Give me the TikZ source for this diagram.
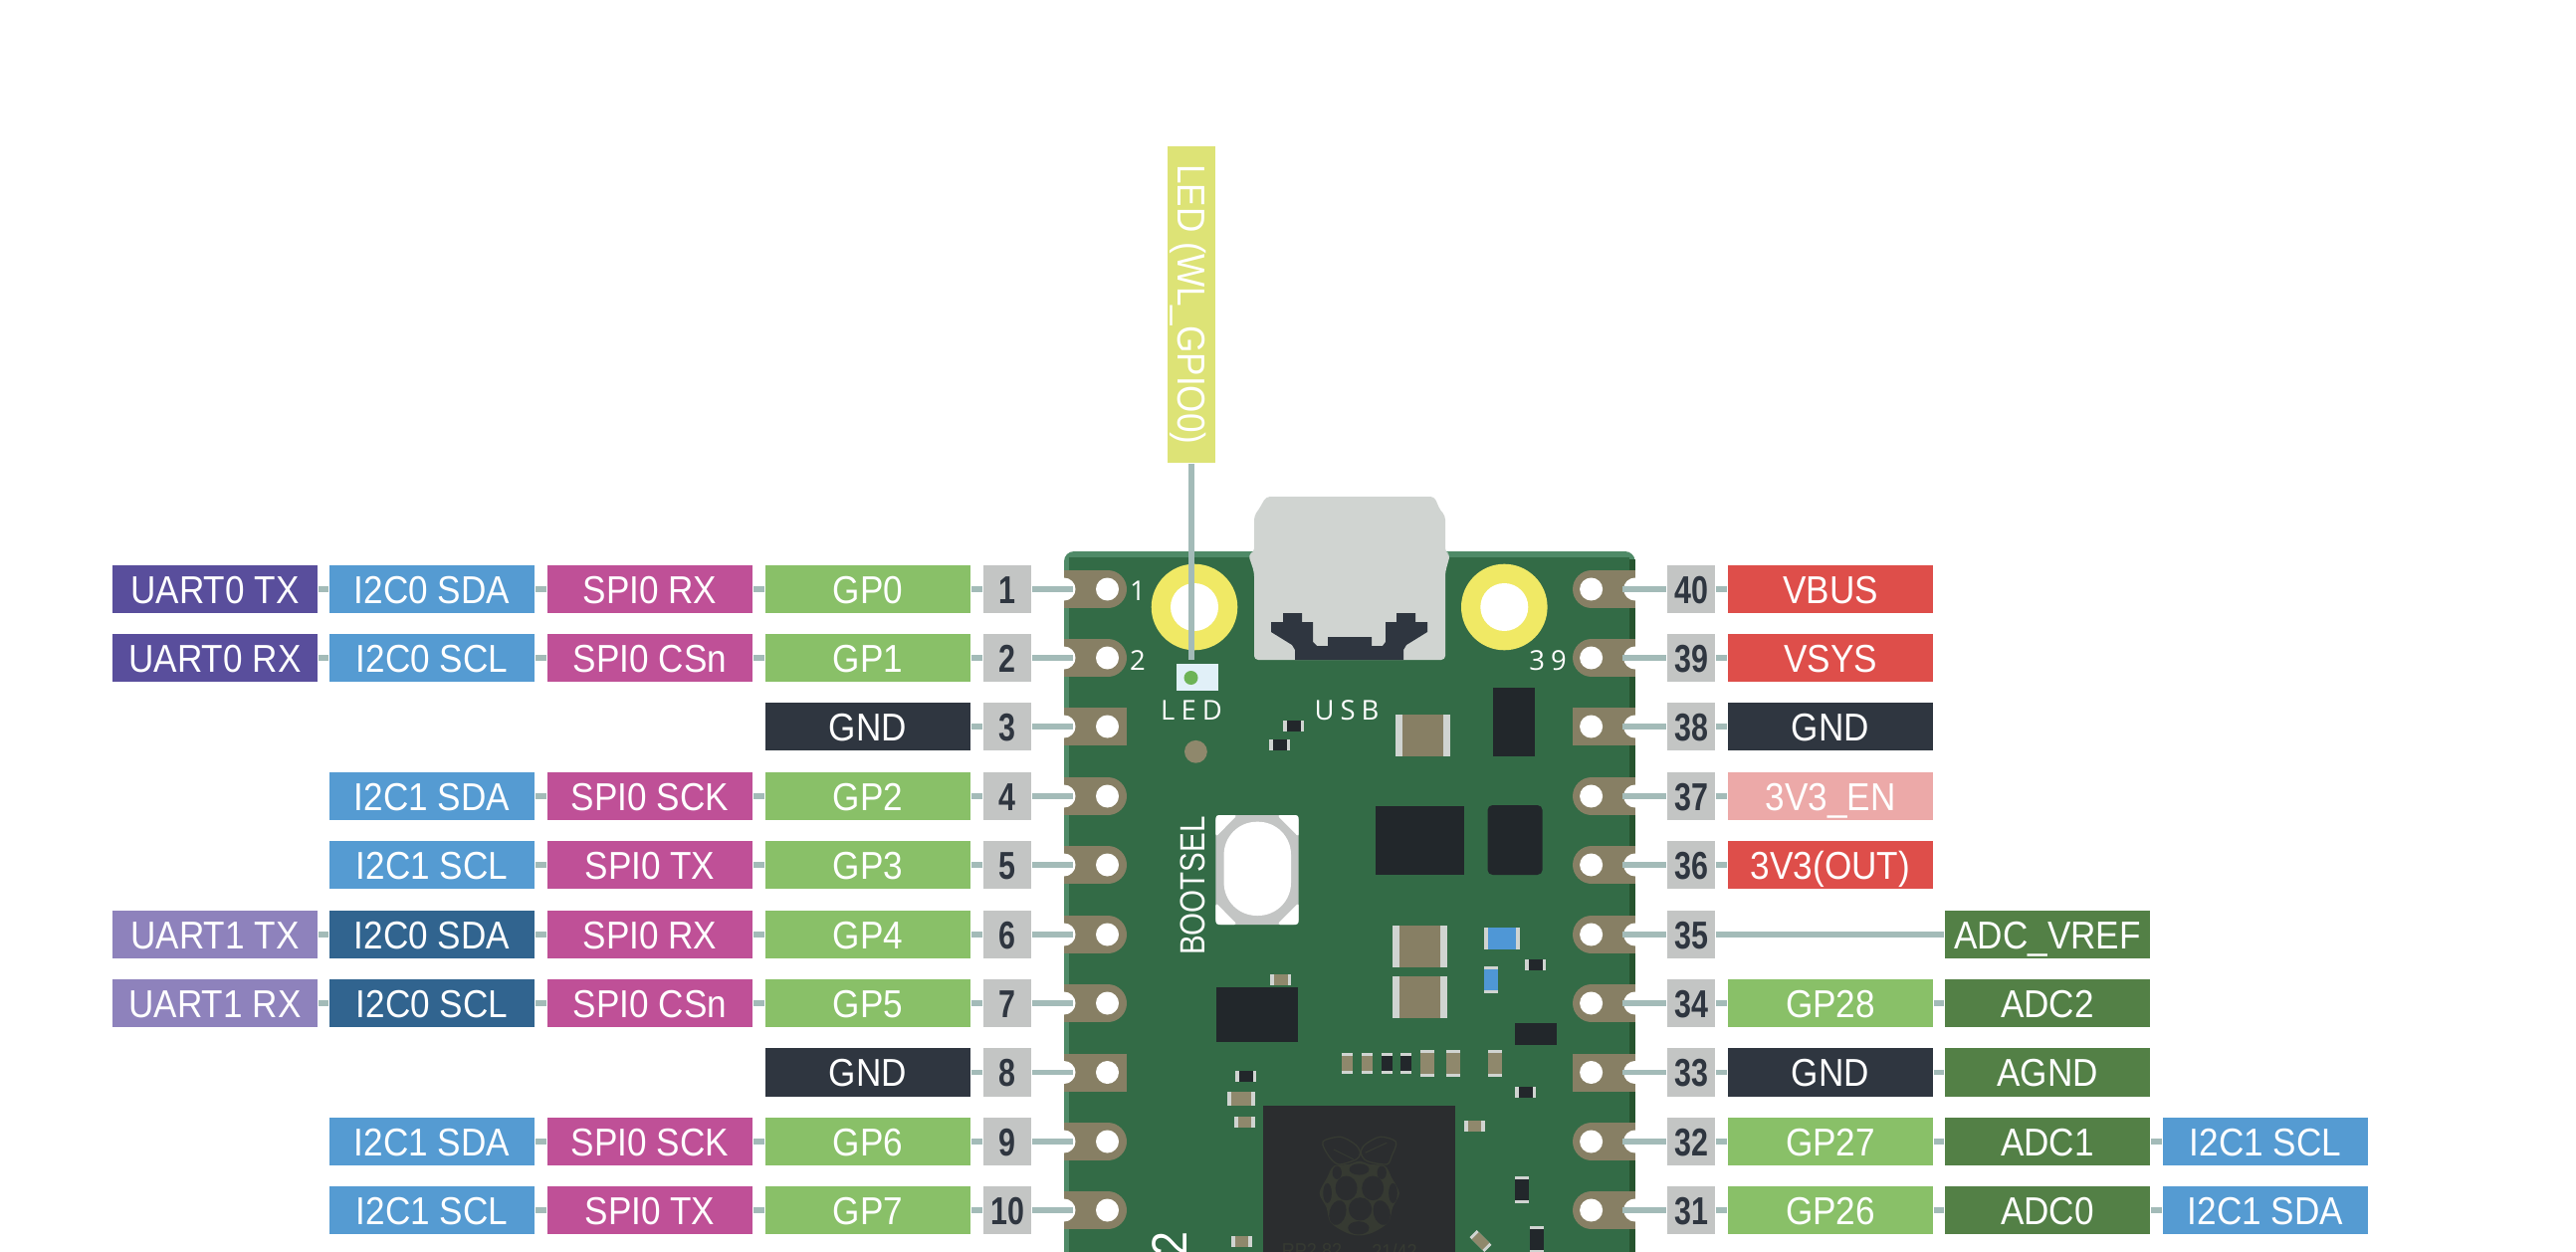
\documentclass[tikz,border=0pt]{standalone}
\usepackage{fontspec}
\usepackage{tikz}
\setmainfont[FakeStretch=0.9]{Liberation Sans}
\newfontfamily\numfont[FakeStretch=0.78]{Liberation Sans}
\newfontfamily\silkfont[LetterSpace=22]{Open Sans}
\newfontfamily\bootfont[FakeStretch=0.84]{Liberation Sans}
\definecolor{wirecol}{HTML}{A3BBB8}
\definecolor{uartcol}{HTML}{594E9C}
\definecolor{uartpale}{HTML}{8E82BC}
\definecolor{bluecol}{HTML}{559BD2}
\definecolor{bluedark}{HTML}{31648F}
\definecolor{spicol}{HTML}{BF5097}
\definecolor{gpcol}{HTML}{89C068}
\definecolor{gndcol}{HTML}{2F3640}
\definecolor{numcol}{HTML}{C3C5C4}
\definecolor{redcol}{HTML}{DE4E4A}
\definecolor{redpale}{HTML}{ECA9A8}
\definecolor{adccol}{HTML}{538046}
\definecolor{ledcol}{HTML}{DDE376}
\definecolor{ledbody}{HTML}{E1F0F8}
\definecolor{leddot}{HTML}{6DB356}
\definecolor{boardcol}{HTML}{336B46}
\definecolor{boardlite}{HTML}{4F8A67}
\definecolor{boarddark}{HTML}{27542F}
\definecolor{padcol}{HTML}{877F64}
\definecolor{tancol}{HTML}{8F886C}
\definecolor{blackcol}{HTML}{22272B}
\definecolor{endcol}{HTML}{D0D4D1}
\definecolor{smdblue}{HTML}{4F97D6}
\definecolor{chipcol}{HTML}{2B2D2F}
\definecolor{logocol}{HTML}{363A32}
\definecolor{yellowcol}{HTML}{F0E965}
\tikzset{
  tag/.style={inner sep=0pt,minimum width=2.06cm,minimum height=0.48cm,text height=0.28cm,text depth=0pt,text=white,font=\fontsize{11.1}{11.1}\selectfont},
  uart0/.style={tag,fill=uartcol},
  uart1/.style={tag,fill=uartpale},
  i2c/.style={tag,fill=bluecol},
  i2cdark/.style={tag,fill=bluedark},
  spi/.style={tag,fill=spicol},
  gp/.style={tag,fill=gpcol},
  gnd/.style={tag,fill=gndcol},
  power/.style={tag,fill=redcol},
  enable/.style={tag,fill=redpale},
  adc/.style={tag,fill=adccol},
  num/.style={inner sep=0pt,minimum width=0.48cm,minimum height=0.48cm,text height=0.28cm,text depth=0pt,fill=numcol,text=gndcol,font=\numfont\bfseries\fontsize{11.1}{11.1}\selectfont},
  wire/.style={wirecol,line width=0.053cm},
  silk/.style={inner sep=0pt,text=white,text depth=0pt,font=\silkfont\fontsize{7.8}{7.8}\selectfont},
}
\begin{document}
\begin{tikzpicture}[x=0.01cm,y=-0.01cm]
\useasboundingbox (0,0) rectangle (2588,1258);
\clip (0,0) rectangle (2588,1258);
\fill[boardlite,rounded corners=0.1cm] (1069,1300) -- (1069,554) -- (1642.6,554) -- (1642.6,1300) -- cycle;
\fill[boarddark] (1637.3,562) rectangle (1642.6,1300);
\fill[boardcol] (1074,560) rectangle (1637.3,1300);
\foreach \y in {592,661,800,869,939,1008,1147,1216} {
  \fill[padcol] (1069,\y-19) rectangle (1113,\y+19);
  \fill[padcol] (1113,\y) circle (19);
  \fill[padcol] (1599,\y-19) rectangle (1642.6,\y+19);
  \fill[padcol] (1599,\y) circle (19);
}
\foreach \y in {730,1077.5} {
  \fill[padcol] (1069,\y-19) rectangle (1132,\y+19);
  \fill[padcol] (1580,\y-19) rectangle (1642.6,\y+19);
}
\foreach \y in {592,661,730,800,869,939,1008,1077.5,1147,1216} {
  \fill[white] (1112.5,\y) circle (11.5);
  \fill[white] (1069,\y) circle (11.5);
  \fill[white] (1598.6,\y) circle (11.5);
  \fill[white] (1642.6,\y) circle (11.5);
}
\fill[yellowcol] (1200,610) circle (43.3);
\fill[white] (1200,610) circle (24);
\fill[yellowcol] (1511.3,610) circle (43.3);
\fill[white] (1511.3,610) circle (24);
\fill[endcol,rounded corners=0.04cm] (1272,499) -- (1441,499) -- (1447,513) -- (1452,518) -- (1452,555) -- (1457,557) -- (1452,575) -- (1452,663) -- (1260,663) -- (1260,575) -- (1254,557) -- (1260,555) -- (1260,518) -- (1264,513) -- cycle;
\fill[gndcol] (1289,616) -- (1308,616) -- (1308,625) -- (1319,625) -- (1319,645) -- (1323,649) -- (1334,649) -- (1334,640) -- (1378,640) -- (1378,649) -- (1389,649) -- (1392,645) -- (1392,625) -- (1403,625) -- (1403,616) -- (1422,616) -- (1422,625) -- (1434,625) -- (1434,635) -- (1413,648) -- (1410,653) -- (1410,663) -- (1301,663) -- (1301,653) -- (1298,648) -- (1277,635) -- (1277,625) -- (1289,625) -- cycle;
\fill[ledbody] (1182,667) rectangle (1224,693.7);
\fill[leddot] (1196.5,681) circle (7);
\fill[tancol] (1201.4,755.3) circle (11.4);
\fill[numcol,rounded corners=0.05cm] (1221.4,819) rectangle (1304.7,929);
\fill[white,rounded corners=0.33cm] (1229.6,825.7) rectangle (1297,920);
\fill[white,rounded corners=0.03cm] (1221.4,819) -- (1243,819) -- (1221.4,841) -- cycle;
\fill[white,rounded corners=0.03cm] (1304.7,819) -- (1283,819) -- (1304.7,841) -- cycle;
\fill[white,rounded corners=0.03cm] (1221.4,929) -- (1243,929) -- (1221.4,907) -- cycle;
\fill[white,rounded corners=0.03cm] (1304.7,929) -- (1283,929) -- (1304.7,907) -- cycle;
\fill[blackcol] (1500,691) rectangle (1542,760);
\fill[blackcol] (1382,810) rectangle (1471,879);
\fill[blackcol,rounded corners=0.05cm] (1494.5,809) rectangle (1549.6,879);
\fill[blackcol] (1222,992) rectangle (1304,1047);
\fill[blackcol] (1522,1028) rectangle (1564,1050);
\foreach \xa/\ya/\xb/\yb/\e/\col in {1289/724/1310/735/3.5/blackcol,1275/743/1296/754/3.5/blackcol,1402/718/1457/760/7/padcol,1399/930/1454/972/7/padcol,1399/981/1454/1023/7/padcol,1491/932/1527/954/4/smdblue,1532/964/1553/975/3.5/blackcol,1276/979/1297/990/3.5/tancol,1522/1092/1543/1103/3.5/blackcol,1241/1076/1262/1087/3.5/blackcol,1233/1097/1261/1111/4/tancol,1240/1122/1261/1133/4/tancol,1471/1126/1492/1137/4/tancol,1237/1242/1258/1253/4/tancol} {
  \fill[endcol] (\xa,\ya) rectangle (\xb,\yb);
  \fill[\col] (\xa+\e,\ya) rectangle (\xb-\e,\yb);
}
\foreach \xa/\ya/\xb/\yb/\e/\col in {1491/971/1505/998/2.7/smdblue,1348/1058/1359/1079/3/tancol,1368/1058/1379/1079/3/tancol,1388/1058/1399/1079/3/blackcol,1407/1058/1418/1079/3/blackcol,1427/1055/1441/1082/2.7/tancol,1453/1055/1467/1082/2.7/tancol,1495/1055/1509/1082/2.7/tancol,1522/1182/1536/1209/2.7/blackcol,1537/1232/1551/1259/2.7/blackcol} {
  \fill[endcol] (\xa,\ya) rectangle (\xb,\yb);
  \fill[\col] (\xa,\ya+\e) rectangle (\xb,\yb-\e);
}
\begin{scope}[rotate around={-45:(1487.5,1247)}]
\fill[endcol] (1477,1242) rectangle (1498,1252);
\fill[tancol] (1480,1242) rectangle (1495,1252);
\end{scope}
\fill[chipcol] (1269,1111) rectangle (1462,1300);
\begin{scope}[shift={(1280,1120)},x=0.00333cm,y=-0.00333cm]
\fill[logocol] plot[smooth cycle] coordinates {(225,150) (257,140) (290,150) (335,155) (355,190) (378,237) (358,280) (345,325) (300,355) (257,365) (215,355) (170,325) (158,280) (137,237) (160,190) (180,155)};
\fill[chipcol] (257,165) ellipse (30 and 17);
\fill[chipcol] (218,222) ellipse (33 and 37);
\fill[chipcol] (298,222) ellipse (33 and 37);
\fill[chipcol] (260,285) circle (35);
\fill[chipcol] (161,237) ellipse (13 and 30);
\fill[chipcol] (359,237) ellipse (13 and 30);
\fill[chipcol,rotate around={-15:(192,296)}] (192,296) ellipse (25 and 38);
\fill[chipcol,rotate around={15:(325,296)}] (325,296) ellipse (25 and 38);
\fill[chipcol] (255,342) ellipse (32 and 20);
\fill[chipcol] (190,175) ellipse (14 and 20);
\fill[chipcol] (325,175) ellipse (14 and 20);
\draw[logocol,line width=0.013cm,fill=chipcol] plot[smooth cycle] coordinates {(147,82) (200,67) (245,90) (260,115) (248,135) (195,150) (165,125)};
\draw[logocol,line width=0.013cm,fill=chipcol] plot[smooth cycle] coordinates {(368,82) (320,67) (275,90) (262,115) (280,140) (340,150) (355,125)};
\draw[logocol,line width=0.01cm] (180,105) -- (240,135);
\draw[logocol,line width=0.01cm] (340,85) -- (275,115);
\end{scope}
\node[inner sep=0pt,text=logocol,font=\fontsize{5.7}{5.7}\selectfont] (chipa) at (1318,1257) {RP2 82};
\node[inner sep=0pt,text=logocol,font=\fontsize{5.7}{5.7}\selectfont] (chipb) at (1401,1257) {21/42};
\node[silk,text height=0.2cm] (silk1) at (1143,593) {1};
\node[silk,text height=0.2cm] (silk2) at (1143,663) {2};
\node[silk,text height=0.2cm] (silk39) at (1555,663) {39};
\node[silk,text height=0.2cm] (silkled) at (1197,713) {LED};
\node[silk,text height=0.2cm] (silkusb) at (1353,713) {USB};
\node[inner sep=0pt,text=white,rotate=90,text height=0.25cm,text depth=0pt,font=\bootfont\fontsize{10}{10}\selectfont] (silkboot) at (1197.5,890) {BOOTSEL};
\node[inner sep=0pt,text=white,rotate=90,text height=0.36cm,text depth=0pt,font=\fontsize{14.2}{14.2}\selectfont] (silkpico) at (1174,1250) {2};
\node[num] (n1) at (1012,592) {1};
\node[num] (n2) at (1012,661) {2};
\node[num] (n3) at (1012,730) {3};
\node[num] (n4) at (1012,800) {4};
\node[num] (n5) at (1012,869) {5};
\node[num] (n6) at (1012,939) {6};
\node[num] (n7) at (1012,1008) {7};
\node[num] (n8) at (1012,1077.5) {8};
\node[num] (n9) at (1012,1147) {9};
\node[num] (n10) at (1012,1216) {10};
\node[num] (n40) at (1699,592) {40};
\node[num] (n39) at (1699,661) {39};
\node[num] (n38) at (1699,730) {38};
\node[num] (n37) at (1699,800) {37};
\node[num] (n36) at (1699,869) {36};
\node[num] (n35) at (1699,939) {35};
\node[num] (n34) at (1699,1008) {34};
\node[num] (n33) at (1699,1077.5) {33};
\node[num] (n32) at (1699,1147) {32};
\node[num] (n31) at (1699,1216) {31};
\node[gp] (gp0) at (872,592) {GP0};
\node[gp] (gp1) at (872,661) {GP1};
\node[gnd] (gnd3) at (872,730) {GND};
\node[gp] (gp2) at (872,800) {GP2};
\node[gp] (gp3) at (872,869) {GP3};
\node[gp] (gp4) at (872,939) {GP4};
\node[gp] (gp5) at (872,1008) {GP5};
\node[gnd] (gnd8) at (872,1077.5) {GND};
\node[gp] (gp6) at (872,1147) {GP6};
\node[gp] (gp7) at (872,1216) {GP7};
\node[spi] (spia) at (653,592) {SPI0 RX};
\node[spi] (spib) at (653,661) {SPI0 CSn};
\node[spi] (spic) at (653,800) {SPI0 SCK};
\node[spi] (spid) at (653,869) {SPI0 TX};
\node[spi] (spie) at (653,939) {SPI0 RX};
\node[spi] (spif) at (653,1008) {SPI0 CSn};
\node[spi] (spig) at (653,1147) {SPI0 SCK};
\node[spi] (spih) at (653,1216) {SPI0 TX};
\node[i2c] (i2ca) at (434,592) {I2C0 SDA};
\node[i2c] (i2cb) at (434,661) {I2C0 SCL};
\node[i2c] (i2cc) at (434,800) {I2C1 SDA};
\node[i2c] (i2cd) at (434,869) {I2C1 SCL};
\node[i2cdark] (i2ce) at (434,939) {I2C0 SDA};
\node[i2cdark] (i2cf) at (434,1008) {I2C0 SCL};
\node[i2c] (i2cg) at (434,1147) {I2C1 SDA};
\node[i2c] (i2ch) at (434,1216) {I2C1 SCL};
\node[uart0] (uarta) at (216,592) {UART0 TX};
\node[uart0] (uartb) at (216,661) {UART0 RX};
\node[uart1] (uartc) at (216,939) {UART1 TX};
\node[uart1] (uartd) at (216,1008) {UART1 RX};
\node[power] (vbus) at (1839,592) {VBUS};
\node[power] (vsys) at (1839,661) {VSYS};
\node[gnd] (gnd38) at (1839,730) {GND};
\node[enable] (en) at (1839,800) {3V3\_EN};
\node[power] (vout) at (1839,869) {3V3(OUT)};
\node[gp] (gp28) at (1839,1008) {GP28};
\node[gnd] (gnd33) at (1839,1077.5) {GND};
\node[gp] (gp27) at (1839,1147) {GP27};
\node[gp] (gp26) at (1839,1216) {GP26};
\node[adc] (vref) at (2057,939) {ADC\_VREF};
\node[adc] (adc2) at (2057,1008) {ADC2};
\node[adc] (agnd) at (2057,1077.5) {AGND};
\node[adc] (adc1) at (2057,1147) {ADC1};
\node[adc] (adc0) at (2057,1216) {ADC0};
\node[i2c] (i2ci) at (2276,1147) {I2C1 SCL};
\node[i2c] (i2cj) at (2276,1216) {I2C1 SDA};
\node[inner sep=0pt,minimum width=3.18cm,minimum height=0.48cm,text height=0.28cm,text depth=0pt,text=white,fill=ledcol,rotate=-90,font=\fontsize{11.1}{11.1}\selectfont] (ledtag) at (1197,306) {LED (WL\_GPIO0)};
\coordinate (ledpin) at (1197,663);
\draw[wire] (ledtag) -- (ledpin);
\foreach \n/\y in {1/592,2/661,3/730,4/800,5/869,6/939,7/1008,8/1077.5,9/1147,10/1216} {
  \coordinate (pin\n) at (1078,\y);
  \draw[wire] (pin\n) -- (n\n);
}
\foreach \n/\y in {40/592,39/661,38/730,37/800,36/869,35/939,34/1008,33/1077.5,32/1147,31/1216} {
  \coordinate (pin\n) at (1630,\y);
  \draw[wire] (pin\n) -- (n\n);
}
\foreach \a/\b in {n1/gp0,gp0/spia,spia/i2ca,i2ca/uarta,n2/gp1,gp1/spib,spib/i2cb,i2cb/uartb,n3/gnd3,n4/gp2,gp2/spic,spic/i2cc,n5/gp3,gp3/spid,spid/i2cd,n6/gp4,gp4/spie,spie/i2ce,i2ce/uartc,n7/gp5,gp5/spif,spif/i2cf,i2cf/uartd,n8/gnd8,n9/gp6,gp6/spig,spig/i2cg,n10/gp7,gp7/spih,spih/i2ch,n40/vbus,n39/vsys,n38/gnd38,n37/en,n36/vout,n35/vref,n34/gp28,gp28/adc2,n33/gnd33,gnd33/agnd,n32/gp27,gp27/adc1,adc1/i2ci,n31/gp26,gp26/adc0,adc0/i2cj} {
  \draw[wire] (\a) -- (\b);
}
\end{tikzpicture}
\end{document}
